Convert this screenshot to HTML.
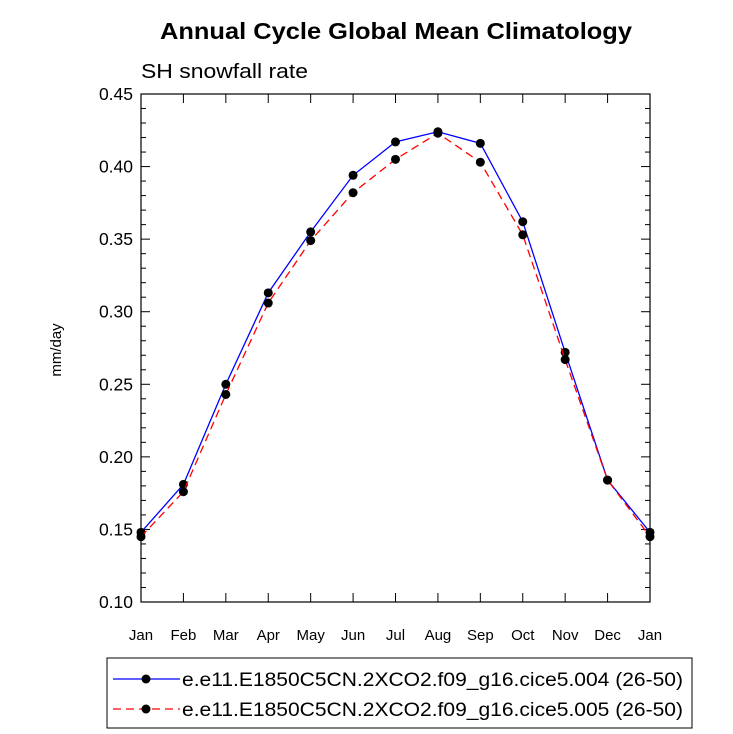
<!DOCTYPE html>
<html><head><meta charset="utf-8"><style>
html,body{margin:0;padding:0;background:#fff;}
svg{display:block;font-family:"Liberation Sans",sans-serif;}
</style></head><body>
<svg id="chart" width="733" height="734" viewBox="0 0 733 734">
<text x="160" y="39" textLength="472" lengthAdjust="spacingAndGlyphs" font-size="23" font-weight="bold">Annual Cycle Global Mean Climatology</text>
<text x="141" y="78" textLength="167" lengthAdjust="spacingAndGlyphs" font-size="20">SH snowfall rate</text>
<text transform="translate(61,350) rotate(-90)" text-anchor="middle" font-size="15">mm/day</text>
<g id="axes"></g>
<g id="series"></g>
<rect x="107" y="658" width="585" height="70" fill="none" stroke="#000" stroke-width="1"/>
<g>
<line x1="113" y1="679" x2="180" y2="679" stroke="#0000ff" stroke-width="1.3"/>
<circle cx="146" cy="679" r="4.5" fill="#000"/>
<text x="182" y="686" textLength="501" lengthAdjust="spacingAndGlyphs" font-size="19">e.e11.E1850C5CN.2XCO2.f09_g16.cice5.004 (26-50)</text>
</g>
<g>
<line x1="113" y1="709" x2="180" y2="709" stroke="#ff0000" stroke-width="1.3" stroke-dasharray="8,5"/>
<circle cx="146" cy="709" r="4.5" fill="#000"/>
<text x="182" y="716" textLength="501" lengthAdjust="spacingAndGlyphs" font-size="19">e.e11.E1850C5CN.2XCO2.f09_g16.cice5.005 (26-50)</text>
</g>
</svg>
<script>
const months=["Jan","Feb","Mar","Apr","May","Jun","Jul","Aug","Sep","Oct","Nov","Dec","Jan"];
const series004=[0.148,0.181,0.250,0.313,0.355,0.394,0.417,0.424,0.416,0.362,0.272,0.184,0.148];
const series005=[0.145,0.176,0.243,0.306,0.349,0.382,0.405,0.423,0.403,0.353,0.267,0.184,0.145];
const yTicks=["0.10","0.15","0.20","0.25","0.30","0.35","0.40","0.45"];
const L=141,R=650,T=94,B=602,yMin=0.10,yMax=0.45;
const NS="http://www.w3.org/2000/svg";
const xs=i=>L+(R-L)*i/(months.length-1);
const ys=v=>B-(v-yMin)/(yMax-yMin)*(B-T);
function mk(tag,attrs,parent){const e=document.createElementNS(NS,tag);for(const k in attrs)e.setAttribute(k,attrs[k]);parent.appendChild(e);return e;}
const ax=document.getElementById('axes');
const frame=mk('rect',{x:L,y:T,width:R-L,height:B-T,fill:'none',stroke:'#000','stroke-width':1.2},ax);


for(let v=0;v<=35;v++){const val=yMin+v*0.01;const y=ys(val);const major=v%5===0;const len=major?9:5;
mk('line',{x1:L,y1:y,x2:L+len,y2:y,stroke:'#000','stroke-width':1},ax);
mk('line',{x1:R,y1:y,x2:R-len,y2:y,stroke:'#000','stroke-width':1},ax);}
yTicks.forEach(t=>{const tx=mk('text',{x:L-8,y:ys(parseFloat(t))+6,'text-anchor':'end','font-size':17.5},ax);tx.textContent=t;

});
months.forEach((m,i)=>{const x=xs(i);
mk('line',{x1:x,y1:B,x2:x,y2:B-9,stroke:'#000','stroke-width':1},ax);
mk('line',{x1:x,y1:T,x2:x,y2:T+9,stroke:'#000','stroke-width':1},ax);
const tx=mk('text',{x:x,y:B+38,'text-anchor':'middle','font-size':15},ax);tx.textContent=m;

});
const sg=document.getElementById('series');
function draw(data,color,dash,name){const g=mk('g',{},sg);


const pts=data.map((v,i)=>xs(i)+','+ys(v)).join(' ');
const a={points:pts,fill:'none',stroke:color,'stroke-width':1.3};if(dash)a['stroke-dasharray']=dash;mk('polyline',a,g);
data.forEach((v,i)=>{const c=mk('circle',{cx:xs(i),cy:ys(v),r:4.5,fill:'#000'},g);

});}
draw(series004,'#0000ff',null,'series-004');
draw(series005,'#ff0000','8,5','series-005');
</script>
</body></html>
